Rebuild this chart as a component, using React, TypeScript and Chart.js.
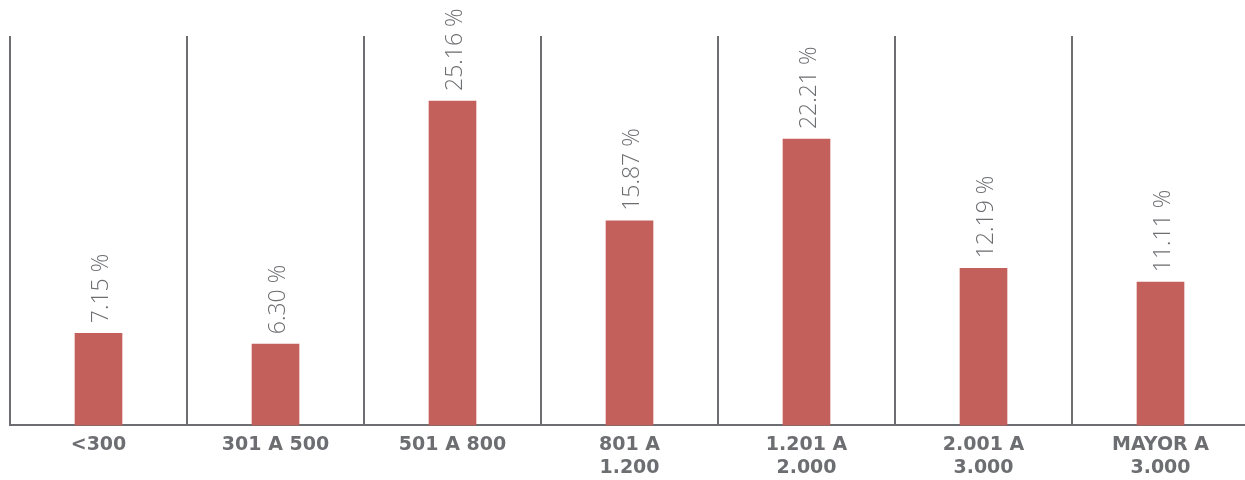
import React, { useEffect, useRef } from "react";
import { Chart, registerables } from "chart.js";

Chart.register(...registerables);

const categories: (string | string[])[] = [
  "<300",
  "301 A 500",
  "501 A 800",
  ["801 A", "1.200"],
  ["1.201 A", "2.000"],
  ["2.001 A", "3.000"],
  ["MAYOR A", "3.000"],
];
const values: number[] = [7.15, 6.3, 25.16, 15.87, 22.21, 12.19, 11.11];

const BAR_COLOR = "#c4605c";
const GRAY = "#6d6e71";

const valueLabels = {
  id: "valueLabels",
  afterDatasetsDraw(chart: any) {
    const ctx = chart.ctx;
    const meta = chart.getDatasetMeta(0);
    ctx.save();
    ctx.fillStyle = GRAY;
    ctx.font = '300 23px "Open Sans"';
    ctx.textAlign = "left";
    ctx.textBaseline = "middle";
    meta.data.forEach((bar: any, i: number) => {
      ctx.save();
      ctx.translate(bar.x + 3, bar.y - 10);
      ctx.rotate(-Math.PI / 2);
      ctx.fillText(values[i].toFixed(2) + " %", 0, 0);
      ctx.restore();
    });
    ctx.restore();
  },
};

export default function App() {
  const ref = useRef<HTMLCanvasElement>(null);
  useEffect(() => {
    const chart = new Chart(ref.current!, {
      type: "bar",
      data: {
        labels: categories,
        datasets: [
          {
            data: values,
            backgroundColor: BAR_COLOR,
            barThickness: 47,
          },
        ],
      },
      options: {
        animation: false,
        responsive: false,
        maintainAspectRatio: false,
        layout: { padding: { left: 10, right: 13, top: 36, bottom: 0 } },
        plugins: { legend: { display: false }, tooltip: { enabled: false } },
        scales: {
          y: { display: false, min: 0, max: 30.2 },
          x: {
            grid: {
              offset: true,
              color: GRAY,
              lineWidth: 2,
              drawTicks: false,
            },
            border: { display: true, color: GRAY, width: 2 },
            ticks: {
              color: GRAY,
              padding: 8,
              maxRotation: 0,
              autoSkip: false,
              font: { family: '"DejaVu Sans"', weight: "bold", size: 19, lineHeight: 1.2 },
            },
          },
        },
      },
      plugins: [valueLabels],
    });
    return () => chart.destroy();
  }, []);
  return (
    <div
      style={{
        position: "fixed",
        left: 0,
        top: 0,
        width: 1245,
        height: 480,
        overflow: "hidden",
        background: "#fff",
      }}
    >
      <canvas ref={ref} width={1262} height={487} style={{ display: "block" }} />
    </div>
  );
}
